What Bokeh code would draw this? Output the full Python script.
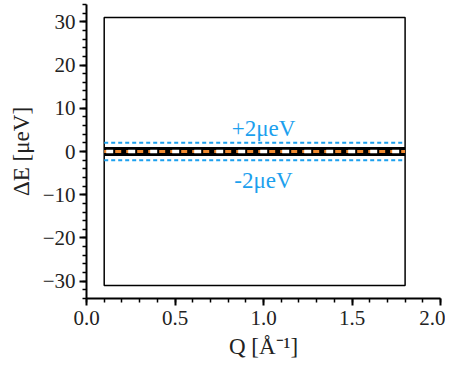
from bokeh.plotting import figure
from bokeh.models import Range1d, Label, FixedTicker
from bokeh.embed import file_html
from bokeh.resources import INLINE

q_range = [0.1, 1.8]
e_range = [-31, 31]
resolution = 2
label_up = "+2μeV"
label_down = "-2μeV"
label_q = 1.0
label_e_up = 5.4
label_e_down = -6.8
x_ticks = [0.0, 0.5, 1.0, 1.5, 2.0]
y_ticks = [-30, -20, -10, 0, 10, 20, 30]
blue = "#1CA0EE"
FONT = "Liberation Serif"

p = figure(width=445, height=363, output_backend="svg", toolbar_location=None,
           x_range=Range1d(0, 2.0), y_range=Range1d(-34, 34),
           min_border_left=86, min_border_right=5, min_border_top=4, min_border_bottom=65)
p.outline_line_color = None
p.grid.visible = False

# measurement window
p.quad(left=[q_range[0]], right=[q_range[1]], bottom=[e_range[0]], top=[e_range[1]],
       fill_color=None, line_color="black", line_width=1.5)

# resolution band
p.line(q_range, [0, 0], line_color="black", line_width=9)
p.line(q_range, [0, 0], line_color="#F08A30", line_width=3, line_dash="6 5")
p.line(q_range, [0, 0], line_color="white", line_width=3.5, line_dash="7 15", line_dash_offset=-2)

# +/- resolution lines
for e in (resolution, -resolution):
    p.line(q_range, [e, e], line_color=blue, line_width=2, line_dash="4 3")

for y, t in ((label_e_up, label_up), (label_e_down, label_down)):
    p.add_layout(Label(x=label_q, y=y, text=t, text_align="center", text_baseline="middle",
                       text_color=blue, text_font=FONT, text_font_size="23px"))

p.xaxis.ticker = FixedTicker(ticks=x_ticks, minor_ticks=[i / 10 for i in range(0, 21)])
p.yaxis.ticker = FixedTicker(ticks=y_ticks, minor_ticks=list(range(-34, 35, 2)))
p.xaxis.major_label_overrides = {0: "0.0", 0.5: "0.5", 1: "1.0", 1.5: "1.5", 2: "2.0"}

for ax in (p.xaxis[0], p.yaxis[0]):
    ax.axis_line_width = 2
    ax.axis_line_color = "black"
    ax.major_tick_line_width = 2
    ax.minor_tick_line_width = 1.5
    ax.major_tick_out = 7
    ax.major_tick_in = 0
    ax.minor_tick_out = 4
    ax.minor_tick_in = 0
    ax.major_label_text_font = FONT
    ax.major_label_text_font_size = "21px"
    ax.major_label_text_color = "#222222"
    ax.axis_label_text_font = FONT
    ax.axis_label_text_font_size = "23px"
    ax.axis_label_text_font_style = "normal"
    ax.axis_label_text_color = "#222222"

p.xaxis.axis_label = "Q [Å⁻¹]"
p.yaxis.axis_label = "ΔE [μeV]"
p.xaxis.major_label_standoff = 5
p.yaxis.major_label_standoff = 4
p.yaxis.axis_label_standoff = 6
p.xaxis.axis_label_standoff = 6

open("out.html", "w").write(file_html(p, INLINE))
